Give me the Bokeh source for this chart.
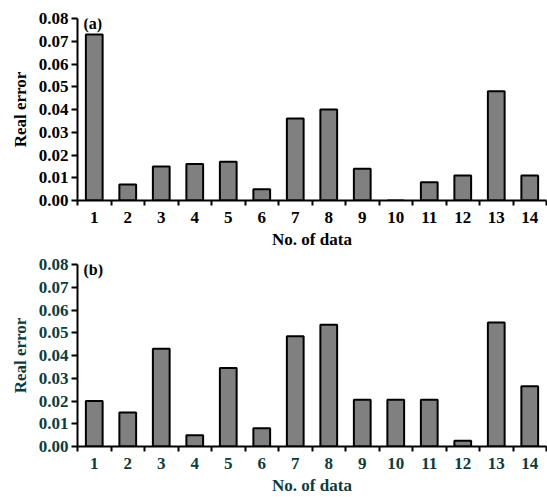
from bokeh.plotting import figure
from bokeh.layouts import column
from bokeh.models import Range1d, FixedTicker, PrintfTickFormatter, Label
from bokeh.embed import file_html
from bokeh.resources import INLINE

nos = list(range(1, 15))
err_a = [0.073, 0.007, 0.015, 0.016, 0.017, 0.005, 0.036, 0.040, 0.014, 0.0, 0.008, 0.011, 0.048, 0.011]
err_b = [0.020, 0.015, 0.043, 0.005, 0.0345, 0.008, 0.0485, 0.0535, 0.0205, 0.0205, 0.0205, 0.0025, 0.0545, 0.0265]
y_ticks = [0.0, 0.01, 0.02, 0.03, 0.04, 0.05, 0.06, 0.07, 0.08]
x_label = "No. of data"
y_label = "Real error"
panels = ["(a)", "(b)"]

FONT = "Liberation Serif"


def make(vals, tag, color, height, top):
    p = figure(width=547, height=height, frame_width=469, frame_height=182,
               output_backend="svg", toolbar_location=None,
               x_range=Range1d(0.5, 14.5), y_range=Range1d(0, 0.08),
               min_border_left=77, min_border_right=1, min_border_top=top,
               min_border_bottom=10)
    p.outline_line_color = None
    p.grid.visible = False
    p.vbar(x=nos, top=vals, width=0.5, fill_color="#808080",
           line_color="black", line_width=2)
    # x axis
    xa = p.xaxis[0]
    xa.ticker = FixedTicker(ticks=nos, minor_ticks=[n + 0.5 for n in range(0, 15)])
    xa.major_tick_out = 0
    xa.major_tick_in = 0
    xa.minor_tick_out = 5
    xa.minor_tick_in = 0
    xa.minor_tick_line_color = "black"
    xa.minor_tick_line_width = 2
    xa.axis_line_width = 2
    xa.axis_label = x_label
    xa.major_label_standoff = 6
    xa.axis_label_standoff = 4
    # y axis
    ya = p.yaxis[0]
    ya.ticker = FixedTicker(ticks=y_ticks)
    ya.formatter = PrintfTickFormatter(format="%.2f")
    ya.major_tick_out = 6
    ya.major_tick_in = 0
    ya.major_tick_line_width = 2
    ya.minor_tick_line_color = None
    ya.axis_line_width = 2
    ya.axis_label = y_label
    ya.major_label_standoff = 3
    ya.axis_label_standoff = 6
    for ax in (xa, ya):
        ax.major_label_text_font = FONT
        ax.major_label_text_font_style = "bold"
        ax.major_label_text_font_size = "17px"
        ax.major_label_text_color = color
        ax.axis_label_text_font = FONT
        ax.axis_label_text_font_style = "bold"
        ax.axis_label_text_font_size = "17px"
        ax.axis_label_text_color = color
        ax.axis_line_color = "black"
        ax.major_tick_line_color = "black"
    p.add_layout(Label(x=0.68, y=0.0815, text=tag, text_font=FONT,
                       text_font_style="bold", text_font_size="16px",
                       text_baseline="top", text_color="black"))
    return p


pa = make(err_a, panels[0], "black", 250, 18)
pb = make(err_b, panels[1], "#0e3c3c", 247, 13)
layout = column(pa, pb, spacing=0)

open("out.html", "w").write(file_html(layout, INLINE))
